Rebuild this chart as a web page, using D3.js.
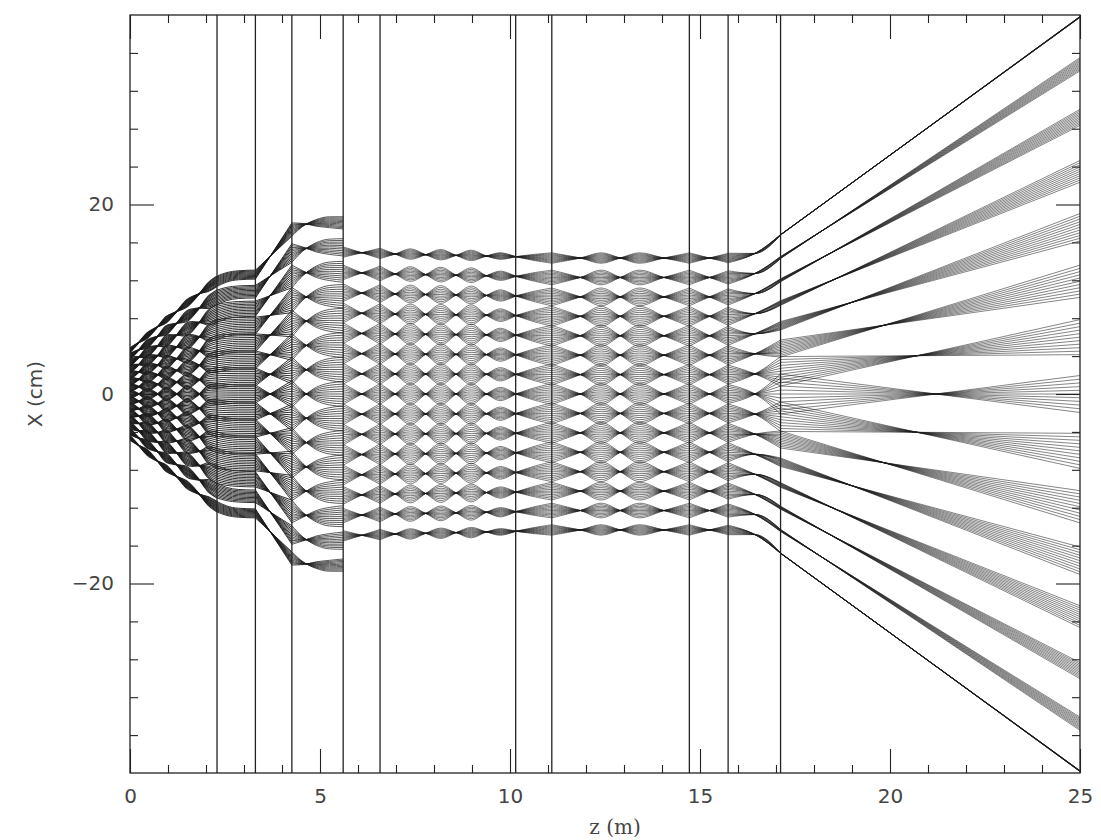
<!DOCTYPE html>
<html><head><meta charset="utf-8">
<script src="https://cdn.jsdelivr.net/npm/d3@7"></script>
<style>body{margin:0;background:#fff}</style>
</head><body><svg id="c" width="1101" height="840"></svg>
<script>
// ---- data ----
const elementZ = [2.29, 3.30, 4.26, 5.61, 6.58, 10.15, 11.10, 14.72, 15.74, 17.12];
const xTickMajor = [0, 5, 10, 15, 20, 25];
const xTickMinor = [1,2,3,4,6,7,8,9,11,12,13,14,16,17,18,19,21,22,23,24];
const yTickMajor = [-20, 0, 20];
const yTickMinor = [-36,-32,-28,-24,-16,-12,-8,-4,4,8,12,16,24,28,32,36];
const beamletIndex = [7,6,5,4,3,2,1,0,-1,-2,-3,-4,-5,-6,-7];
const beamletAmp = [1, 1, 1, 1, 0.95, 0.85, 0.7, 0.5];          // by |index|
const rayFrac = [-1,-0.8,-0.6,-0.4,-0.2,0,0.2,0.4,0.6,0.8,1];

// beamlet centre spacing (cm per index) and signed half-width (cm) at knots
const segA = {z:[0,0.2,0.45,0.7,0.95,1.2,1.5,1.8,2.05,2.29],
              s:[0.66,0.76,0.88,1.0,1.12,1.23,1.37,1.5,1.61,1.7],
              hw:[0.5,0.1,-0.6,-0.1,0.7,0.1,-0.8,-0.1,0.9,1.1], curve:"cr", w:1.1};
const segB = {z:[2.29,2.55,2.85,3.30], s:[1.7,1.76,1.79,1.8], hw:[1.1,1.0,0.95,0.95], curve:"mono", w:1.0};
const segC = {z:[3.30,4.26], s:[1.8,2.48], hw:[0.95,-1.4], curve:"lin", w:1.0};
const segD = {z:[4.26,4.55,4.9,5.25,5.61], s:[2.48,2.55,2.58,2.59,2.58], hw:[-1.4,-0.3,0.7,1.15,1.3], curve:"mono", w:0.8};
const segE = {z:[5.61,6.1,6.58], s:[2.14,2.13,2.12], hw:[1.1,0,-1.1], curve:"cr", w:0.65};
const segF = {z:[6.58,6.98,7.38,7.78,8.18,8.58,8.98,9.38,9.75,10.15],
              s:[2.12,2.11,2.11,2.10,2.10,2.09,2.09,2.08,2.08,2.07],
              hw:[-1.1,0,1.1,0,-1.1,0,1.1,0,-0.7,0], curve:"cr", w:0.65};
const segG = {z:[10.15,10.6,11.10], s:[2.07,2.06,2.05], hw:[0,0.6,1.1], curve:"cr", w:0.65};
const segH = {z:[11.10,11.85,12.4,12.9,13.4,14.05,14.72], s:[2.05,2.05,2.05,2.05,2.05,2.05,2.05],
              hw:[1.1,0,-1.1,0,1.1,0,-1.1], curve:"cr", w:0.65};
const segI = {z:[14.72,15.25,15.74], s:[2.05,2.05,2.05], hw:[-1.1,0,1.0], curve:"cr", w:0.65};
const segJ = {z:[15.74,16.45,17.12], s:[2.05,2.12,2.4], hw:[1.0,0,null], curve:"mono", w:0.65};
const segments = [segA, segB, segC, segD, segE, segF, segG, segH, segI, segJ];

// final fan: bundle centre and half-width at z = 25, half-width at exit plane (by |index|)
const fanEndZ = 25;
const fanCenter25 = [0, 6.0, 11.9, 17.6, 23.5, 29.2, 34.8, 39.8];
const fanHalf25   = [1.95, 1.85, 1.7, 1.45, 1.15, 0.85, 0.7, 0.05];
const fanHalf17   = [2.1, 1.55, 0.9, 0.45, 0.25, 0.16, 0.11, 0.02];

// ---- drawing ----
const svg = d3.select("#c");
const L = 130, R = 1080, T = 15, B = 773;
const xs = d3.scaleLinear().domain([0, 25]).range([L, R]);
const ys = d3.scaleLinear().domain([-40, 40]).range([B, T]);
const ink = "#222";

svg.append("defs").append("clipPath").attr("id","pc")
  .append("rect").attr("x",L).attr("y",T).attr("width",R-L).attr("height",B-T);

const curves = {cr: d3.curveCatmullRom.alpha(0.5), mono: d3.curveMonotoneX, lin: d3.curveLinear};
const rays = svg.append("g").attr("clip-path","url(#pc)")
  .attr("fill","none").attr("stroke","#1c1c1c").attr("stroke-opacity",0.9);

beamletIndex.forEach(i => {
  const a = Math.abs(i);
  const amp = beamletAmp[a];
  const sg = i < 0 ? -1 : 1;
  rayFrac.forEach(f => {
    segments.forEach(seg => {
      const pts = seg.z.map((z, k) => {
        const h = seg.hw[k] === null ? -fanHalf17[a] : seg.hw[k] * amp;
        return [z, i * seg.s[k] + f * h];
      });
      rays.append("path").attr("stroke-width", seg.w)
        .attr("d", d3.line().x(d => xs(d[0])).y(d => ys(d[1])).curve(curves[seg.curve])(pts));
    });
    // straight fan after the last element
    const z0 = segJ.z[segJ.z.length - 1];
    const fan = [[z0, i * segJ.s[segJ.s.length - 1] - f * fanHalf17[a]],
                 [fanEndZ, sg * fanCenter25[a] + f * fanHalf25[a]]];
    rays.append("path").attr("stroke-width", 0.6)
      .attr("d", d3.line().x(d => xs(d[0])).y(d => ys(d[1]))(fan));
  });
});

// element planes
svg.append("g").selectAll("line").data(elementZ).join("line")
  .attr("x1", d => xs(d)).attr("x2", d => xs(d)).attr("y1", T).attr("y2", B)
  .attr("stroke", ink).attr("stroke-width", 1.3);

// axes with inward ticks
function ax(gen, tx, ty, vals, size, labels, pad) {
  const g = svg.append("g").attr("transform", `translate(${tx},${ty})`)
    .call(gen.tickValues(vals).tickSize(size).tickPadding(pad || 3)
      .tickFormat(labels ? d3.format("d") : ""));
  g.select(".domain").remove();
  g.selectAll(".tick line").attr("stroke", ink).attr("stroke-width", 1.1);
  g.selectAll("text").attr("fill", "#444").style("font-family", "DejaVu Sans, sans-serif")
    .style("font-size", "20px");
  return g;
}
ax(d3.axisBottom(xs), 0, B, xTickMinor, -8, false);
ax(d3.axisBottom(xs), 0, B, xTickMajor, -24, true, 16);
ax(d3.axisTop(xs), 0, T, xTickMinor, -8, false);
ax(d3.axisTop(xs), 0, T, xTickMajor, -24, false);
ax(d3.axisLeft(ys), L, 0, yTickMinor, -8, false);
ax(d3.axisLeft(ys), L, 0, yTickMajor, -24, true, 16);
ax(d3.axisRight(ys), R, 0, yTickMinor, -8, false);
ax(d3.axisRight(ys), R, 0, yTickMajor, -24, false);

svg.append("rect").attr("x", L).attr("y", T).attr("width", R - L).attr("height", B - T)
  .attr("fill", "none").attr("stroke", ink).attr("stroke-width", 1.3);

svg.append("text").attr("x", (L + R) / 2 + 10).attr("y", 834).attr("text-anchor", "middle")
  .attr("fill", "#444").style("font-family", "DejaVu Serif, serif").style("font-size", "20px")
  .text("z  (m)");
svg.append("text").attr("transform", `translate(42,${ys(0)}) rotate(-90)`).attr("text-anchor", "middle")
  .attr("fill", "#444").style("font-family", "DejaVu Sans, sans-serif").style("font-size", "20px")
  .text("X  (cm)");
</script></body></html>
